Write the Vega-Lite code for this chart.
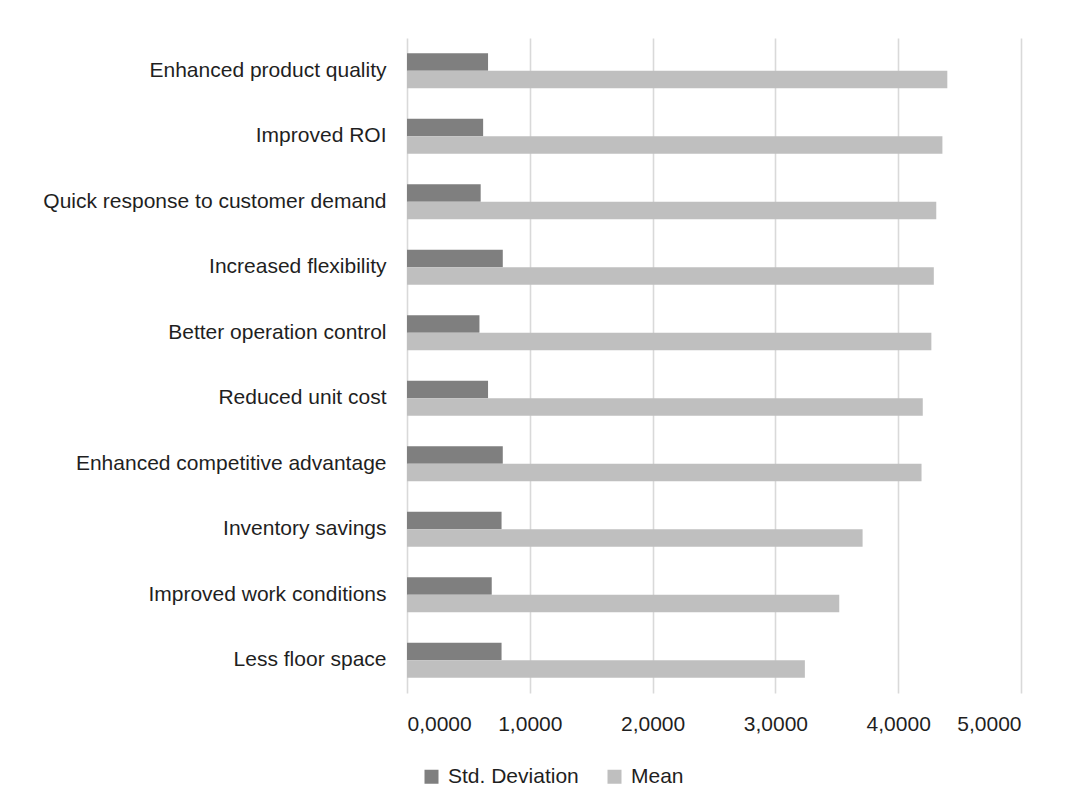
{
  "$schema": "https://vega.github.io/schema/vega-lite/v6.json",
  "width": 614,
  "height": 655,
  "autosize": {"type": "none"},
  "padding": {"left": 407, "top": 38, "right": 54, "bottom": 117},
  "background": "#ffffff",
  "config": {
    "view": {"stroke": null},
    "font": "Liberation Sans"
  },
  "data": {
    "values": [
      {"item": "Enhanced product quality", "series": "Std. Deviation", "value": 0.66},
      {"item": "Enhanced product quality", "series": "Mean", "value": 4.40},
      {"item": "Improved ROI", "series": "Std. Deviation", "value": 0.62},
      {"item": "Improved ROI", "series": "Mean", "value": 4.36},
      {"item": "Quick response to customer demand", "series": "Std. Deviation", "value": 0.60},
      {"item": "Quick response to customer demand", "series": "Mean", "value": 4.31},
      {"item": "Increased flexibility", "series": "Std. Deviation", "value": 0.78},
      {"item": "Increased flexibility", "series": "Mean", "value": 4.29},
      {"item": "Better operation control", "series": "Std. Deviation", "value": 0.59},
      {"item": "Better operation control", "series": "Mean", "value": 4.27},
      {"item": "Reduced unit cost", "series": "Std. Deviation", "value": 0.66},
      {"item": "Reduced unit cost", "series": "Mean", "value": 4.20},
      {"item": "Enhanced competitive advantage", "series": "Std. Deviation", "value": 0.78},
      {"item": "Enhanced competitive advantage", "series": "Mean", "value": 4.19},
      {"item": "Inventory savings", "series": "Std. Deviation", "value": 0.77},
      {"item": "Inventory savings", "series": "Mean", "value": 3.71},
      {"item": "Improved work conditions", "series": "Std. Deviation", "value": 0.69},
      {"item": "Improved work conditions", "series": "Mean", "value": 3.52},
      {"item": "Less floor space", "series": "Std. Deviation", "value": 0.77},
      {"item": "Less floor space", "series": "Mean", "value": 3.24}
    ]
  },
  "mark": {"type": "bar"},
  "encoding": {
    "y": {
      "field": "item",
      "type": "nominal",
      "sort": null,
      "scale": {"paddingInner": 0.466, "paddingOuter": 0.233},
      "axis": {
        "title": null,
        "domain": false,
        "ticks": false,
        "labelPadding": 21,
        "labelFontSize": 21,
        "labelLimit": 0,
        "labelColor": "#1f1f1f"
      }
    },
    "yOffset": {
      "field": "series",
      "type": "nominal",
      "sort": ["Std. Deviation", "Mean"]
    },
    "x": {
      "field": "value",
      "type": "quantitative",
      "scale": {"domain": [0, 5], "nice": false},
      "axis": {
        "title": null,
        "values": [0, 1, 2, 3, 4, 5],
        "labelExpr": "replace(format(datum.value, '.4f'), '.', ',')",
        "domain": false,
        "ticks": false,
        "grid": true,
        "gridColor": "#d9d9d9",
        "gridWidth": 1.6,
        "labelPadding": 20,
        "labelFontSize": 21,
        "labelColor": "#1f1f1f"
      }
    },
    "color": {
      "field": "series",
      "type": "nominal",
      "sort": ["Std. Deviation", "Mean"],
      "scale": {"domain": ["Std. Deviation", "Mean"], "range": ["#7f7f7f", "#bfbfbf"]},
      "legend": {
        "title": null,
        "orient": "none",
        "direction": "horizontal",
        "legendX": 14,
        "legendY": 728,
        "symbolType": "square",
        "symbolSize": 196,
        "symbolStrokeWidth": 0,
        "symbolOffset": 0,
        "labelOffset": 6,
        "labelFontSize": 21,
        "labelColor": "#1f1f1f",
        "columnPadding": 25
      }
    }
  }
}
